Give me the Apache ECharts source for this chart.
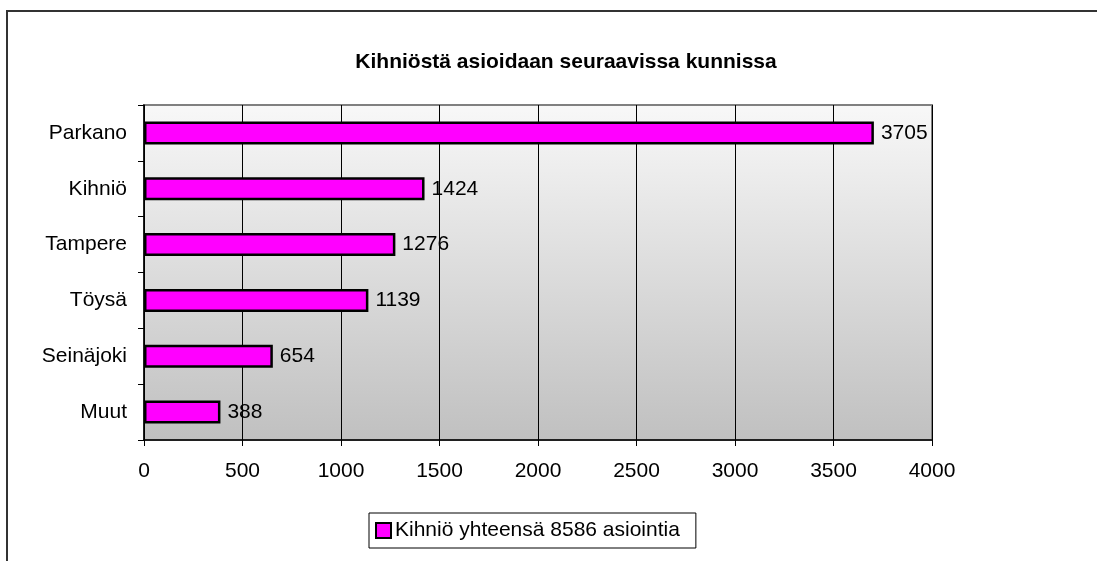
<!DOCTYPE html>
<html>
<head>
<meta charset="utf-8">
<script src="https://cdn.jsdelivr.net/npm/echarts@6/dist/echarts.min.js"></script>
<style>
  html, body { margin: 0; padding: 0; background: #fff; overflow: hidden; }
  #frame {
    position: absolute; left: 6px; top: 10px;
    width: 1200px; height: 700px;
    border: 2px solid #333;
  }
  #main { position: absolute; left: 0; top: 0; width: 1097px; height: 561px; }
</style>
</head>
<body>
<div id="frame"></div>
<div id="main"></div>
<script>
var categories = ['Parkano', 'Kihniö', 'Tampere', 'Töysä', 'Seinäjoki', 'Muut'];
var values = [3705, 1424, 1276, 1139, 654, 388];
var seriesName = 'Kihniö yhteensä 8586 asiointia';
var titleText = 'Kihniöstä asioidaan seuraavissa kunnissa';

var font = 'Arial, "Liberation Sans", sans-serif';
var chart = echarts.init(document.getElementById('main'));

chart.setOption({
  animation: false,
  textStyle: { fontFamily: font },
  title: {
    text: titleText,
    left: 561,
    top: 47,
    textAlign: 'center',
    textStyle: { fontSize: 21, fontWeight: 'bold', color: '#000', fontFamily: font }
  },
  legend: {
    left: 369,
    top: 513,
    padding: [6, 16, 6, 6],
    borderColor: '#000',
    borderWidth: 1,
    backgroundColor: '#fff',
    itemWidth: 15,
    itemHeight: 15,
    itemGap: 4,
    icon: 'rect',
    itemStyle: { borderColor: '#000', borderWidth: 2 },
    textStyle: { fontSize: 21, lineHeight: 23, color: '#000', fontFamily: font, padding: [0, 0, 0, -1] },
    data: [seriesName]
  },
  grid: {
    left: 144,
    right: 165,
    top: 105,
    bottom: 121,
    show: true,
    borderColor: '#808080',
    borderWidth: 2,
    backgroundColor: new echarts.graphic.LinearGradient(0, 0, 0, 1, [
      { offset: 0, color: '#f8f8f8' },
      { offset: 1, color: '#c0c0c0' }
    ])
  },
  xAxis: {
    type: 'value',
    min: 0,
    max: 4000,
    interval: 500,
    axisLine: { show: true, lineStyle: { color: '#000', width: 1.5 } },
    axisTick: { show: true, length: 6, lineStyle: { color: '#000' } },
    splitLine: { show: true, lineStyle: { color: '#000', width: 1 } },
    axisLabel: {
      fontSize: 21, color: '#000', margin: 21, fontFamily: font,
      formatter: function (v) { return String(v); }
    }
  },
  yAxis: {
    type: 'category',
    inverse: true,
    data: categories,
    axisLine: { show: true, lineStyle: { color: '#000', width: 1.5 } },
    axisTick: { show: true, length: 6, lineStyle: { color: '#000' } },
    axisLabel: { fontSize: 21, color: '#000', margin: 17, fontFamily: font }
  },
  series: [{
    name: seriesName,
    type: 'bar',
    data: values,
    barWidth: 23,
    itemStyle: { color: '#ff00ff', borderColor: '#000', borderWidth: 2.5 },
    label: {
      show: true,
      position: 'right',
      distance: 7,
      fontSize: 21,
      color: '#000',
      fontFamily: font
    }
  }]
});
</script>
</body>
</html>
